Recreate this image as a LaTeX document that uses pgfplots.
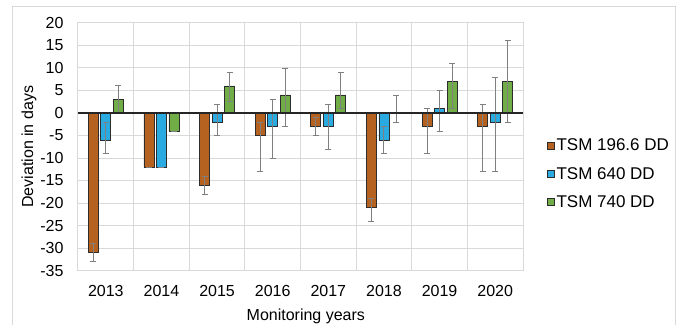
\documentclass[border=0pt]{standalone}
\usepackage{pgfplots}
\pgfplotsset{compat=1.18}
\usepackage{pgfplotstable}
\usepackage{fontspec}
\setmainfont{Liberation Sans}
\definecolor{cbrown}{RGB}{181,98,33}
\definecolor{cblue}{RGB}{41,171,226}
\definecolor{cgreen}{RGB}{112,173,71}
\definecolor{cgrid}{RGB}{217,217,217}
\definecolor{cerr}{RGB}{128,128,128}
\definecolor{cedge}{RGB}{45,45,45}

\pgfplotstableread{
x y ep em
0 -31 2 2
1 -12 0 0
2 -16 2 2
3 -5 3 8
4 -3 2 2
5 -21 2 3
6 -3 4 6
7 -3 5 10
}\brown
\pgfplotstableread{
x y ep em
0 -6 4 3
1 -12 0 0
2 -2 4 3
3 -3 6 7
4 -3 5 5
5 -6 3 3
6 1 4 5
7 -2 10 11
}\blue
\pgfplotstableread{
x y ep em
0 3 3 3
1 -4 0 0
2 6 3 3.5
3 4 6 7
4 4 5 3
5 0 4 2
6 7 4 6
7 7 9 9
}\green

\begin{document}
\begin{tikzpicture}[x=1pt,y=1pt,font=\fontsize{16}{19}\selectfont]
\begin{axis}[
  at={(0,0)}, anchor=south west,
  scale only axis, width=445pt, height=247.5pt,
  xmin=-0.5, xmax=7.5, ymin=-35, ymax=20,
  ybar=2.5pt, bar width=10pt,
  xtick={0,...,7},
  xticklabels={2013,2014,2015,2016,2017,2018,2019,2020},
  ytick={-35,-30,...,20},
  minor xtick={-0.5,0.5,...,7.5},
  xminorgrids=true, ymajorgrids=true,
  grid style={cgrid, line width=1pt},
  minor grid style={cgrid, line width=1pt},
  major tick length=0pt, minor tick length=0pt,
  axis line style={cgrid, line width=1pt},
  /pgf/number format/assume math mode=true,
  ticklabel style={font=\fontsize{16}{19}\selectfont},
  yticklabel style={xshift=-11pt},
  xticklabel style={yshift=-11pt},
  xlabel={Monitoring years},
  ylabel={Deviation in days},
  label style={font=\fontsize{16}{19}\selectfont},
  xlabel style={at={(axis description cs:0.512,-0.2)}, anchor=base},
  ylabel style={at={(axis description cs:-0.101,0.5)}, anchor=base},
  legend style={at={(axis description cs:1.054,0.39)}, anchor=west, draw=none, fill=none,
    font=\fontsize{17}{20}\selectfont, row sep=15pt, inner sep=0pt,
    nodes={inner xsep=1.5pt, inner ysep=0pt}},
  legend cell align=left,
  legend image code/.code={\draw[#1, line width=0.8pt] (0pt,-3.5pt) rectangle (7pt,3.5pt);},
  error bars/y dir=both, error bars/y explicit,
  error bars/error bar style={cerr, line width=1pt},
  error bars/error mark options={cerr, line width=1pt, mark size=3pt, rotate=90},
]
\addplot[fill=cbrown, draw=cedge, line width=0.8pt]
  table[x=x, y=y, y error plus=ep, y error minus=em] {\brown};
\addlegendentry{TSM 196.6 DD}
\addplot[fill=cblue, draw=cedge, line width=0.8pt]
  table[x=x, y=y, y error plus=ep, y error minus=em] {\blue};
\addlegendentry{TSM 640 DD}
\addplot[fill=cgreen, draw=cedge, line width=0.8pt]
  table[x=x, y=y, y error plus=ep, y error minus=em] {\green};
\addlegendentry{TSM 740 DD}
\draw[black!85, line width=1.2pt] (axis cs:-0.5,0) -- (axis cs:7.5,0);
\end{axis}
\draw[cgrid, line width=1pt] (-65,-60) -- (-65,263.5) -- (597,263.5) -- (597,-60);
\pgfresetboundingbox
\useasboundingbox (-78,-53.5) rectangle (609,270.5);
\end{tikzpicture}
\end{document}
